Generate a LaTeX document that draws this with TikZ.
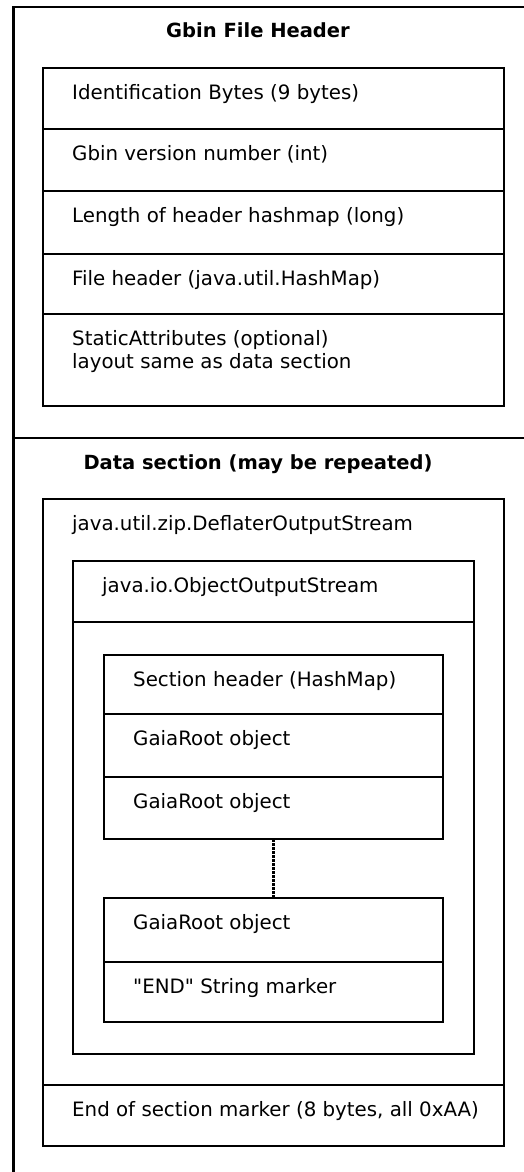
\documentclass[tikz,border=0pt]{standalone}
\usepackage{fontspec}
\setmainfont{DejaVu Sans}
\usetikzlibrary{positioning}

\begin{document}
\begin{tikzpicture}[
  x=1pt, y=-1pt,
  font=\fontsize{19.8}{23.5}\selectfont,
  cell/.style={draw, line width=2.6pt, anchor=north west, inner sep=0pt, outer sep=0pt},
  celltext/.style={anchor=north west, inner sep=0pt, align=left, xshift=29pt, yshift=-16pt},
  title/.style={font=\fontsize{19.5}{23.5}\selectfont\bfseries, anchor=base},
  dots/.style={line width=2.6pt, dash pattern=on 2.5pt off 1.5pt}
]
\useasboundingbox (0,0) rectangle (524,1172);

% outer frame, open to the right and below
\draw[line width=2.6pt] (13.5,1180) -- (13.5,7) -- (530,7);
\draw[line width=2.6pt] (13.5,438) -- (530,438);

\node[title] (hdrtitle) at (258,37.5) {Gbin File Header};
\node[title] (datatitle) at (258,469) {Data section (may be repeated)};

% file header
\node[cell, minimum width=461pt, minimum height=61pt,
  label={[celltext]north west:Identification Bytes (9 bytes)}] (ident) at (43,68) {};
\node[cell, minimum width=461pt, minimum height=62pt,
  label={[celltext]north west:Gbin version number (int)}] (version) at (43,129) {};
\node[cell, minimum width=461pt, minimum height=63pt,
  label={[celltext]north west:Length of header hashmap (long)}] (hlength) at (43,191) {};
\node[cell, minimum width=461pt, minimum height=60pt,
  label={[celltext]north west:File header (java.util.HashMap)}] (fheader) at (43,254) {};
\node[cell, minimum width=461pt, minimum height=92pt,
  label={[celltext]north west:{StaticAttributes (optional)\\layout same as data section}}] (static) at (43,314) {};

% data section
\node[cell, minimum width=461pt, minimum height=586pt,
  label={[celltext]north west:java.util.zip.DeflaterOutputStream}] (deflater) at (43,499) {};
\node[cell, minimum width=461pt, minimum height=61pt,
  label={[celltext]north west:{End of section marker (8 bytes, all 0xAA)}}] (endmark) at (43,1085) {};

\node[cell, minimum width=401pt, minimum height=61pt,
  label={[celltext]north west:java.io.ObjectOutputStream}] (objstream) at (73,561) {};
\node[cell, minimum width=401pt, minimum height=432pt] (objbody) at (73,622) {};

\node[cell, minimum width=339pt, minimum height=59pt,
  label={[celltext]north west:Section header (HashMap)}] (sechead) at (104,655) {};
\node[cell, minimum width=339pt, minimum height=63pt,
  label={[celltext]north west:GaiaRoot object}] (gaiaA) at (104,714) {};
\node[cell, minimum width=339pt, minimum height=62pt,
  label={[celltext]north west:GaiaRoot object}] (gaiaB) at (104,777) {};

\node[cell, minimum width=339pt, minimum height=64pt,
  label={[celltext]north west:GaiaRoot object}] (gaiaC) at (104,898) {};
\node[cell, minimum width=339pt, minimum height=60pt,
  label={[celltext]north west:\textquotedbl END\textquotedbl{} String marker}] (endstr) at (104,962) {};

\draw[dots] (gaiaB.south) -- (gaiaC.north);

\end{tikzpicture}
\end{document}
